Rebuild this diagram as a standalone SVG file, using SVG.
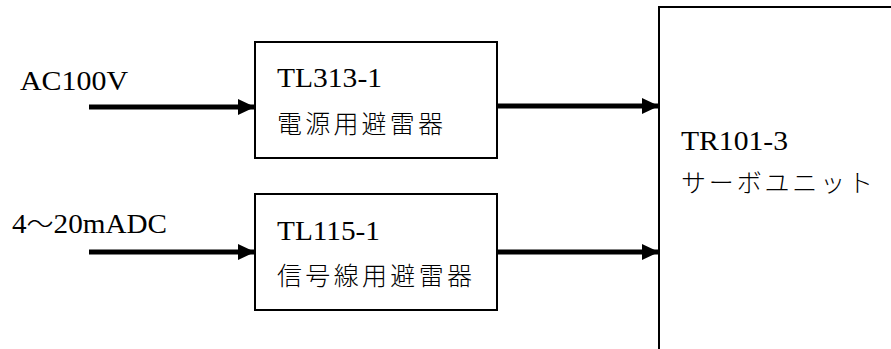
<svg xmlns="http://www.w3.org/2000/svg" width="891" height="349" viewBox="0 0 891 349">
<style>
.box{fill:#fff;stroke:#000;stroke-width:2}
.lat{font-family:'Liberation Serif','Times New Roman',serif;font-size:27px;fill:#000}
.jp{font-family:'Noto Sans CJK JP',sans-serif;font-size:25px;font-weight:300;fill:#000}
.conn{stroke:#000;stroke-width:5;fill:none;marker-end:url(#ah)}
</style>
<defs>
<marker id="ah" markerUnits="userSpaceOnUse" markerWidth="17" markerHeight="16" refX="17" refY="8" orient="auto">
<path d="M0,0 L17,8 L0,16 Z" fill="#000"/>
</marker>
</defs>
<rect width="891" height="349" fill="#fff"/>
<g id="in-ac">
<text class="lat" x="20" y="90" textLength="108" lengthAdjust="spacingAndGlyphs">AC100V</text>
</g>
<g id="in-dc">
<text class="lat" x="12" y="233" textLength="155" lengthAdjust="spacingAndGlyphs">4<tspan class="jp" font-size="27">〜</tspan>20mADC</text>
</g>
<g id="tl313">
<rect class="box" x="255" y="42" width="242" height="116"/>
<text class="lat" x="277" y="87" textLength="105" lengthAdjust="spacingAndGlyphs">TL313-1</text>
<text class="jp" x="277" y="133" textLength="166" lengthAdjust="spacing">電源用避雷器</text>
</g>
<g id="tl115">
<rect class="box" x="255" y="194" width="242" height="116"/>
<text class="lat" x="277" y="240" textLength="103" lengthAdjust="spacingAndGlyphs">TL115-1</text>
<text class="jp" x="277" y="285" textLength="195" lengthAdjust="spacing">信号線用避雷器</text>
</g>
<g id="tr101">
<rect class="box" x="659" y="7" width="240" height="360"/>
<text class="lat" x="681" y="150" textLength="107" lengthAdjust="spacingAndGlyphs">TR101-3</text>
<text class="jp" x="681" y="192" textLength="192" lengthAdjust="spacing">サーボユニット</text>
</g>
<g id="connectors">
<line class="conn" x1="89" y1="107" x2="255" y2="107"/>
<line class="conn" x1="89" y1="252" x2="255" y2="252"/>
<line class="conn" x1="497" y1="106" x2="659" y2="106"/>
<line class="conn" x1="497" y1="252" x2="659" y2="252"/>
</g>
</svg>
